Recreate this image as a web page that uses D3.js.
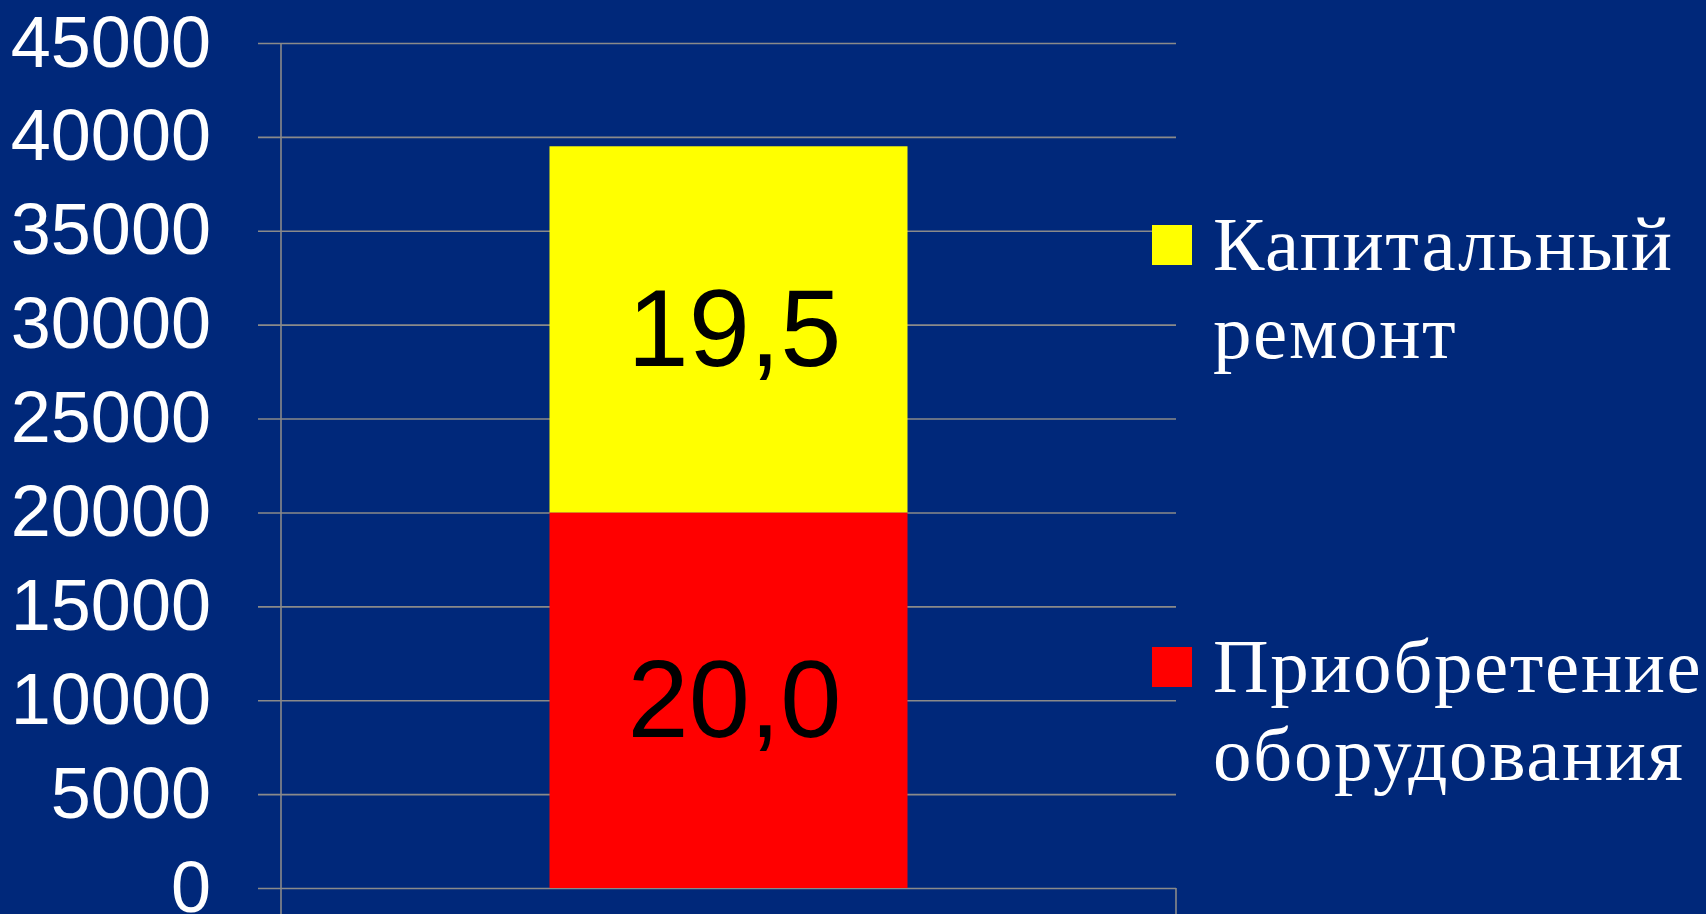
<!DOCTYPE html>
<html>
<head>
<meta charset="utf-8">
<script src="https://cdn.jsdelivr.net/npm/d3@7"></script>
<style>
  html, body { margin: 0; padding: 0; background: #00287a; overflow: hidden; }
  svg { display: block; }
</style>
</head>
<body>
<div class="chart"></div>
<script>
// chart data
var categories = ["2012"];
var seriesNames = ["Приобретение оборудования", "Капитальный ремонт"];
var seriesValues = [[20000], [19500]];
var seriesColors = ["#ff0000", "#ffff00"];
var legendLines = [["Капитальный", "ремонт"], ["Приобретение", "оборудования"]];
var legendColors = ["#ffff00", "#ff0000"];
var yTicks = [0, 5000, 10000, 15000, 20000, 25000, 30000, 35000, 40000, 45000];

var width = 1706, height = 914;
var plotLeft = 281, plotRight = 1176, plotTop = 43, plotBottom = 888;

var svg = d3.select(".chart")
  .append("svg")
  .attr("width", width)
  .attr("height", height);

var y = d3.scaleLinear().domain([0, 45000]).range([plotBottom, plotTop]);
var x = d3.scaleBand()
  .domain(categories)
  .range([plotLeft, plotRight])
  .paddingInner(0)
  .paddingOuter(0.75)
  .align(0.5);

// value axis with gridlines
var yAxis = svg.append("g")
  .attr("transform", "translate(258,0)")
  .call(d3.axisLeft(y)
    .tickValues(yTicks)
    .tickFormat(d3.format("d"))
    .tickSize(-(plotRight - 258))
    .tickPadding(47));

yAxis.select(".domain").remove();
yAxis.selectAll("line")
  .attr("stroke", "#8a8a8a")
  .attr("stroke-width", 1.6);
yAxis.selectAll("text")
  .attr("fill", "#ffffff")
  .style("font-family", "'Liberation Sans', Arial, sans-serif")
  .style("font-size", "72px");

// vertical axis line and category ticks
svg.append("line")
  .attr("x1", plotLeft).attr("x2", plotLeft)
  .attr("y1", plotTop).attr("y2", height)
  .attr("stroke", "#8a8a8a").attr("stroke-width", 1.6);
svg.append("line")
  .attr("x1", plotRight).attr("x2", plotRight)
  .attr("y1", plotBottom).attr("y2", height)
  .attr("stroke", "#8a8a8a").attr("stroke-width", 1.6);

// stacked bars
var stackData = categories.map(function (c, i) {
  var row = { cat: c };
  seriesNames.forEach(function (s, j) { row[s] = seriesValues[j][i]; });
  return row;
});
var stacked = d3.stack().keys(seriesNames)(stackData);

var layers = svg.selectAll(".layer")
  .data(stacked)
  .enter()
  .append("g")
  .attr("class", "layer")
  .attr("fill", function (d, i) { return seriesColors[i]; });

layers.selectAll("rect")
  .data(function (d) { return d; })
  .enter()
  .append("rect")
  .attr("x", function (d) { return x(d.data.cat); })
  .attr("width", x.bandwidth())
  .attr("y", function (d) { return y(d[1]); })
  .attr("height", function (d) { return y(d[0]) - y(d[1]); });

var fmt = d3.format(".1f");
layers.selectAll("text")
  .data(function (d) { return d; })
  .enter()
  .append("text")
  .attr("x", function (d) { return x(d.data.cat) + x.bandwidth() / 2 + 6; })
  .attr("y", function (d) { return (y(d[0]) + y(d[1])) / 2; })
  .attr("dy", "0.33em")
  .attr("text-anchor", "middle")
  .attr("fill", "#000000")
  .style("font-family", "'Liberation Sans', Arial, sans-serif")
  .style("font-size", "110px")
  .text(function (d) { return fmt((d[1] - d[0]) / 1000).replace(".", ","); });

// legend
var legendY = [245, 667];
var legend = svg.selectAll(".legend")
  .data(legendLines)
  .enter()
  .append("g")
  .attr("class", "legend")
  .attr("transform", function (d, i) { return "translate(1152," + legendY[i] + ")"; });

legend.append("rect")
  .attr("x", 0).attr("y", -20)
  .attr("width", 40).attr("height", 40)
  .attr("fill", function (d, i) { return legendColors[i]; });

legend.append("text")
  .attr("fill", "#ffffff")
  .style("font-family", "'Liberation Serif', 'DejaVu Serif', serif")
  .style("font-size", "77px")
  .style("letter-spacing", "1.6px")
  .selectAll("tspan")
  .data(function (d) { return d; })
  .enter()
  .append("tspan")
  .attr("x", 61)
  .attr("y", function (d, i) { return 25 + i * 88; })
  .text(function (d) { return d; });
</script>
</body>
</html>
